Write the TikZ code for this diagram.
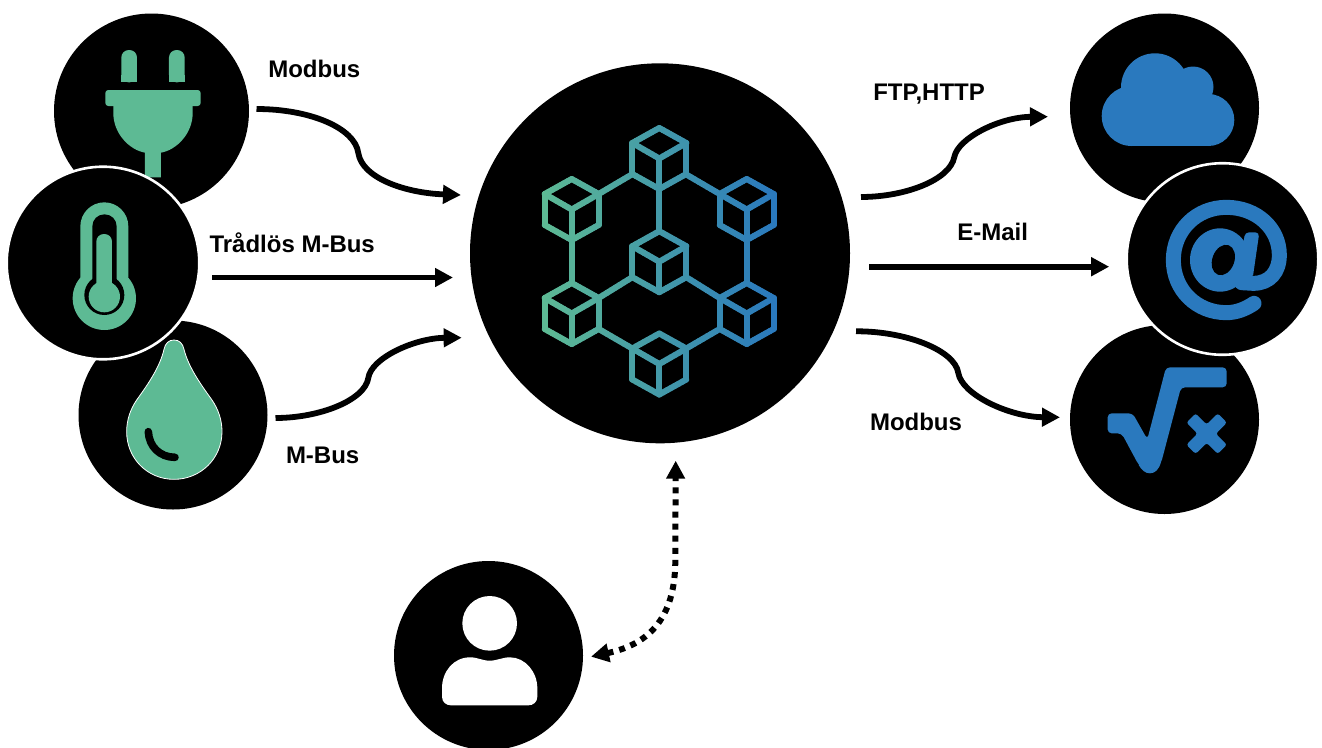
\documentclass[tikz,border=0pt]{standalone}
\usepackage{fontspec}
\setmainfont{Liberation Sans}
\usetikzlibrary{arrows.meta}
\definecolor{iconG}{HTML}{5DBA94}
\definecolor{iconB}{HTML}{2A79BE}
\newcommand{\netseg}[4]{%
  \pgfmathtruncatemacro\nnseg{max(1,ceil(veclen((#3)-(#1),(#4)-(#2))/5))}%
  \foreach \kk in {1,...,\nnseg}{%
    \pgfmathsetmacro\nxa{(#1)+((#3)-(#1))*(\kk-1)/\nnseg}%
    \pgfmathsetmacro\nya{(#2)+((#4)-(#2))*(\kk-1)/\nnseg}%
    \pgfmathsetmacro\nxb{(#1)+((#3)-(#1))*\kk/\nnseg}%
    \pgfmathsetmacro\nyb{(#2)+((#4)-(#2))*\kk/\nnseg}%
    \pgfmathsetmacro\nmix{min(100,max(0,((\nxa+\nxb)/2-545)/2.3))}%
    \draw[netline,color=iconB!\nmix!iconG] (\nxa,\nya)--(\nxb,\nyb);
  }%
}
\newcommand{\netcube}[2]{%
  \netseg{#1}{#2-30.5}{#1+27}{#2-15.5}%
  \netseg{#1+27}{#2-15.5}{#1+27}{#2+15.5}%
  \netseg{#1+27}{#2+15.5}{#1}{#2+30.5}%
  \netseg{#1}{#2+30.5}{#1-27}{#2+15.5}%
  \netseg{#1-27}{#2+15.5}{#1-27}{#2-15.5}%
  \netseg{#1-27}{#2-15.5}{#1}{#2-30.5}%
  \netseg{#1-27}{#2-15.5}{#1}{#2}%
  \netseg{#1+27}{#2-15.5}{#1}{#2}%
  \netseg{#1}{#2}{#1}{#2+30.5}%
}
\tikzset{
  netline/.style={line width=6pt,line cap=round},
  disc/.style={circle,fill=black,inner sep=0pt,outer sep=0pt},
  ringed/.style={disc,draw=white,line width=2.6pt},
  flow/.style={line width=5.8pt,-{Triangle[length=18pt,width=18pt]}},
  dots/.style={line width=6pt,dash pattern=on 6pt off 6.1pt,
    {Triangle[length=18pt,width=18pt]}-{Triangle[length=18pt,width=18pt]}},
  lbl/.style={anchor=base west,inner sep=0pt,outer sep=0pt,font=\bfseries\fontsize{24pt}{26pt}\selectfont},
  zoomA/.style={shift={(0,0)},x=0.33333pt,y=-0.33333pt},
  zoomR/.style={shift={(1050,0)},x=0.33333pt,y=-0.33333pt},
  zoomU/.style={shift={(390,450)},x=0.33333pt,y=-0.33333pt}
}
\begin{document}
\begin{tikzpicture}[x=1pt,y=-1pt]
\useasboundingbox (0,0) rectangle (1322,747);
% left column
\node[disc,minimum size=195pt] (plug) at (151.5,111) {};
\begin{scope}[zoomA]
  \fill[iconG,rounded corners=7.5pt] (364,247) -- (364,150) -- (411,150) -- (411,247) -- cycle;
  \fill[iconG,rounded corners=7.5pt] (507,247) -- (507,150) -- (554,150) -- (554,247) -- cycle;
  \fill[iconG] (364,225) rectangle (411,247);
  \fill[iconG] (507,225) rectangle (554,247);
  \fill[iconG,rounded corners=3pt] (316,270) rectangle (602,318);
  \fill[iconG] (340,310) -- (578,310) -- (578,340) .. controls (578,400) and (530,450) .. (483,458)
     -- (483,532) -- (435,532) -- (435,458) .. controls (388,450) and (340,400) .. (340,340) -- cycle;
\end{scope}
\node[disc,minimum size=189pt] (drop) at (173,415) {};
\begin{scope}[zoomA]
  \path[fill=iconG,draw=white,line width=0.8pt] (522,1020)
    .. controls (538,1020) and (548,1030) .. (552,1048)
    .. controls (565,1100) and (600,1150) .. (636,1200)
    .. controls (655,1228) and (666,1260) .. (666,1295)
    .. controls (666,1375) and (602,1438) .. (522,1438)
    .. controls (442,1438) and (380,1375) .. (380,1295)
    .. controls (380,1260) and (391,1228) .. (410,1200)
    .. controls (446,1150) and (480,1100) .. (492,1048)
    .. controls (496,1030) and (506,1020) .. (522,1020) -- cycle;
  \draw[black,line width=7.6pt,line cap=round] (445,1295) .. controls (447,1340) and (480,1372) .. (525,1372);
\end{scope}
\node[ringed,minimum size=192.6pt] (thermo) at (103,263) {};
\begin{scope}[zoomA]
  \fill[iconG] (313,895) circle [radius=95];
  \fill[iconG,rounded corners=24pt] (241,900) -- (241,607) -- (385,607) -- (385,900) -- cycle;
  \fill[black] (313,885) circle [radius=60];
  \fill[black,rounded corners=12pt] (277,890) -- (277,643) -- (350,643) -- (350,890) -- cycle;
  \fill[iconG] (313,890) circle [radius=47];
  \fill[iconG,rounded corners=7.5pt] (289,890) -- (289,702) -- (336,702) -- (336,890) -- cycle;
\end{scope}
% hub
\node[disc,minimum size=380pt] (hub) at (660,253.3) {};
\netseg{631.7}{174.5}{598.7}{194}
\netseg{686.3}{174.5}{719.7}{194}
\netseg{659.3}{189}{659.3}{231.2}
\netseg{571.7}{240}{571.7}{283}
\netseg{746.7}{240}{746.7}{283}
\netseg{632.3}{277.2}{598.7}{298}
\netseg{686.3}{277.2}{719.7}{298}
\netseg{598.7}{329}{632.3}{348.5}
\netseg{719.7}{329}{686.3}{348.5}
\netcube{659.3}{158.5}
\netcube{571.7}{209.5}
\netcube{746.7}{209.5}
\netcube{659.3}{261.7}
\netcube{571.7}{313.5}
\netcube{746.7}{313.5}
\netcube{659.3}{364}
% right column
\node[disc,minimum size=189pt] (cloud) at (1164.5,108) {};
\fill[iconB] (1131.7,116) circle [radius=30] (1155,87.3) circle [radius=34]
   (1193,87) circle [radius=20.5] (1208.3,120) circle [radius=26];
\fill[iconB] (1131.7,90) rectangle (1208.3,146);
\fill[iconB] (1150,75) rectangle (1190,100);
\node[disc,minimum size=189pt] (root) at (1164.5,419.5) {};
\begin{scope}[zoomR]
  \fill[iconB,rounded corners=4pt] (173,1240) -- (248,1240) -- (292,1318) -- (348,1102) -- (530,1102)
     -- (530,1162) -- (393,1162) -- (333,1390) -- (300,1420) -- (266,1395) -- (215,1300) -- (173,1300) -- cycle;
  \fill[iconB] (333,1385) .. controls (328,1408) and (315,1420) .. (300,1420) .. controls (285,1420) and (275,1410) .. (266,1395) -- (290,1350) -- cycle;
  \fill[iconB,rounded corners=2.5pt] (470,1273.4) -- (503.2,1240.2) -- (530.8,1267.8) -- (497.6,1301)
     -- (530.8,1334.2) -- (503.2,1361.8) -- (470,1328.6) -- (436.8,1361.8) -- (409.2,1334.2)
     -- (442.4,1301) -- (409.2,1267.8) -- (436.8,1240.2) -- cycle;
\end{scope}
\node[ringed,minimum size=191.6pt] (mail) at (1222.5,259) {};
\begin{scope}[zoomR]
  \draw[iconB,line width=15pt,line cap=round] (612,910) .. controls (585,928) and (558,938) .. (529,938)
     .. controls (440,938) and (370,870) .. (370,780) .. controls (370,690) and (440,622) .. (529,622)
     .. controls (620,622) and (688,685) .. (688,765) .. controls (688,815) and (660,850) .. (610,850) -- (575,848);
  \fill[iconB,rounded corners=4pt] (585,697) -- (628,697) -- (608,835) -- (565,835) -- cycle;
  \fill[iconB] (510,780) ellipse [x radius=90,y radius=95];
  \fill[black,rotate around={-20:(520,780)}] (520,780) ellipse [x radius=33,y radius=47];
\end{scope}
% user
\node[disc,minimum size=189pt] (user) at (488.5,655.5) {};
\begin{scope}[zoomU]
  \fill[white] (299,520) circle [radius=82];
  \fill[white] (156,715) .. controls (156,665) and (190,622) .. (240,622) .. controls (265,622) and (275,632) .. (299,632)
     .. controls (323,632) and (335,622) .. (360,622) .. controls (405,622) and (442,665) .. (442,715) -- (442,740)
     .. controls (442,756) and (430,766) .. (415,766) -- (183,766) .. controls (168,766) and (156,756) .. (156,740) -- cycle;
\end{scope}
% connectors
\draw[flow] ([shift={(7.5,-2)}]plug.east) .. controls (310,109) and (355,128) .. (358.3,153)
   .. controls (362,178) and (405,193) .. ([shift={(-9,-58.3)}]hub.west);
\draw[flow] ([shift={(13,14.5)}]thermo.east) -- ([shift={(-17,24.2)}]hub.west);
\draw[flow] ([shift={(8,3)}]drop.east) .. controls (320,418) and (365,400) .. (368.3,378)
   .. controls (371,358) and (415,338) .. ([shift={(-8.3,84.4)}]hub.west);
\draw[flow] ([shift={(11,-56.3)}]hub.east) .. controls (905,197) and (950,180) .. (954.3,157)
   .. controls (958,138) and (1000,117) .. ([shift={(-22,8.7)}]cloud.west);
\draw[flow] ([shift={(19.3,13.4)}]hub.east) -- ([shift={(-17.5,7.7)}]mail.west);
\draw[flow] ([shift={(6,78)}]hub.east) .. controls (905,331) and (955,350) .. (958.3,373)
   .. controls (962,395) and (1010,417) .. ([shift={(-10,-2.2)}]root.west);
\draw[dots] ([shift={(8,1.2)}]user.east) .. controls (645,645) and (676,622) .. (675.3,558)
   -- ([shift={(15.7,17.4)}]hub.south);
% labels
\node[lbl] (l1) at (268.3,77.3) {Modbus};
\node[lbl] (l2) at (209.5,252.3) {Trådlös M-Bus};
\node[lbl] (l3) at (286,463.3) {M-Bus};
\node[lbl] (l4) at (873.3,100.7) {FTP,HTTP};
\node[lbl] (l5) at (957.3,240.7) {E-Mail};
\node[lbl] (l6) at (870,430) {Modbus};
\end{tikzpicture}
\end{document}
